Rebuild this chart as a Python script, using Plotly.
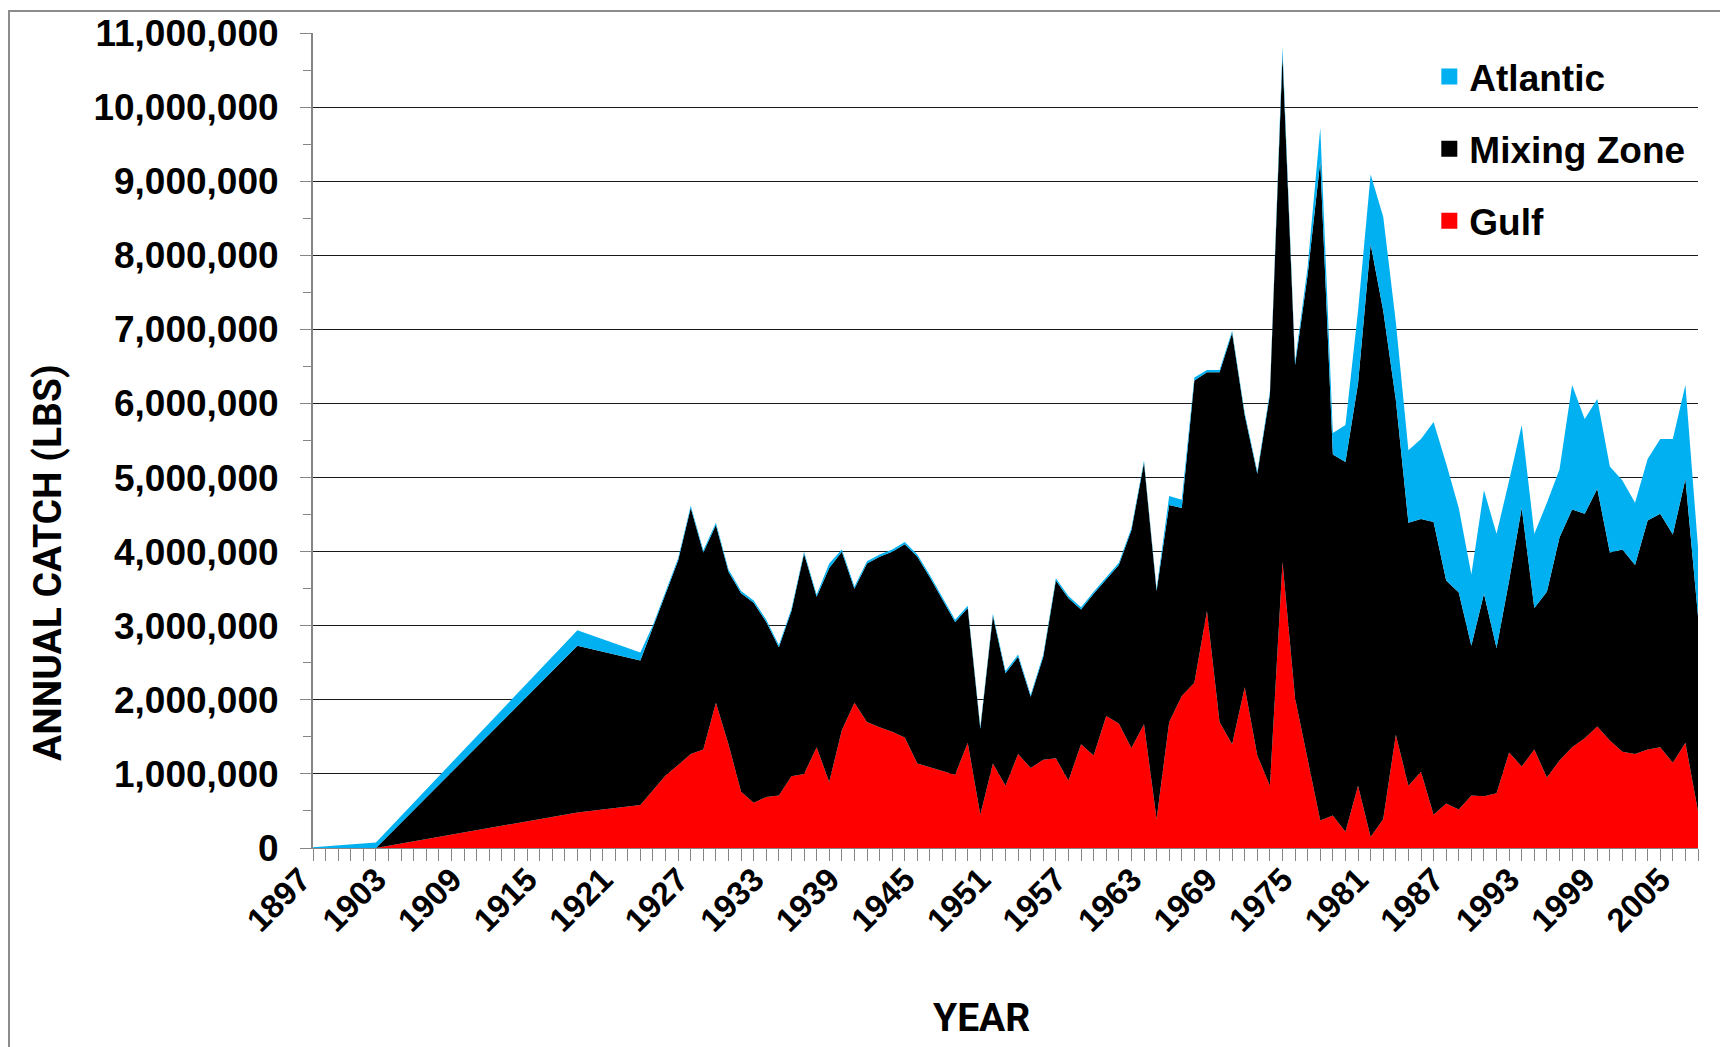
import plotly.graph_objects as go

years = [1897, 1902, 1918, 1923, 1924, 1925, 1926, 1927, 1928, 1929, 1930, 1931, 1932, 1933, 1934,
         1935, 1936, 1937, 1938, 1939, 1940, 1941, 1942, 1943, 1944, 1945, 1946, 1947, 1948, 1949,
         1950, 1951, 1952, 1953, 1954, 1955, 1956, 1957, 1958, 1959, 1960, 1961, 1962, 1963, 1964,
         1965, 1966, 1967, 1968, 1969, 1970, 1971, 1972, 1973, 1974, 1975, 1976, 1977, 1978, 1979,
         1980, 1981, 1982, 1983, 1984, 1985, 1986, 1987, 1988, 1989, 1990, 1991, 1992, 1993, 1994,
         1995, 1996, 1997, 1998, 1999, 2000, 2001, 2002, 2003, 2004, 2005, 2006, 2007]

# values in millions of lbs
gulf_m = [0.00, 0.00, 0.48, 0.58, 0.78, 0.98, 1.12, 1.27, 1.33, 1.96, 1.40, 0.76, 0.61, 0.69, 0.71,
          0.97, 1.00, 1.36, 0.89, 1.59, 1.96, 1.70, 1.63, 1.57, 1.49, 1.14, 1.09, 1.04, 0.99, 1.42,
          0.45, 1.14, 0.84, 1.27, 1.08, 1.19, 1.21, 0.91, 1.40, 1.25, 1.78, 1.68, 1.35, 1.67, 0.39,
          1.70, 2.05, 2.23, 3.20, 1.70, 1.40, 2.17, 1.25, 0.84, 3.86, 2.02, 1.21, 0.37, 0.44, 0.22,
          0.84, 0.15, 0.39, 1.53, 0.84, 1.03, 0.45, 0.60, 0.52, 0.71, 0.70, 0.74, 1.29, 1.10, 1.33,
          0.95, 1.18, 1.36, 1.48, 1.64, 1.45, 1.30, 1.27, 1.33, 1.36, 1.15, 1.42, 0.50]

mixing_m = [0.00, 0.00, 2.25, 1.95, 2.20, 2.45, 2.76, 3.32, 2.66, 2.40, 2.33, 2.68, 2.70, 2.36, 2.00,
            2.23, 2.97, 2.03, 2.89, 2.41, 1.54, 2.14, 2.30, 2.43, 2.61, 2.79, 2.56, 2.31, 2.06, 1.82,
            1.16, 1.99, 1.52, 1.31, 0.96, 1.39, 2.40, 2.46, 1.82, 2.18, 1.85, 2.14, 2.94, 3.53, 3.08,
            2.93, 2.54, 4.08, 3.22, 4.72, 5.55, 3.67, 3.80, 5.28, 6.84, 4.50, 6.53, 8.90, 4.87, 4.99,
            5.43, 8.00, 6.86, 4.52, 3.55, 3.41, 3.95, 3.01, 2.93, 2.02, 2.73, 1.96, 2.32, 3.49, 1.91,
            2.51, 3.01, 3.21, 3.03, 3.21, 2.54, 2.73, 2.55, 3.09, 3.15, 3.08, 3.56, 2.63]

atlantic_m = [0.01, 0.075, 0.21, 0.11, 0.03, 0.03, 0.03, 0.03, 0.03, 0.03, 0.03, 0.03, 0.03, 0.03, 0.03,
              0.03, 0.03, 0.03, 0.06, 0.03, 0.03, 0.03, 0.03, 0.03, 0.03, 0.03, 0.03, 0.03, 0.03, 0.03,
              0.03, 0.03, 0.03, 0.03, 0.03, 0.03, 0.03, 0.03, 0.03, 0.03, 0.03, 0.03, 0.03, 0.03, 0.03,
              0.12, 0.11, 0.04, 0.03, 0.03, 0.03, 0.03, 0.03, 0.04, 0.11, 0.05, 0.11, 0.45, 0.29, 0.50,
              0.98, 0.94, 1.27, 1.05, 0.98, 1.08, 1.35, 1.58, 1.14, 0.96, 1.40, 1.54, 1.35, 1.12, 1.00,
              1.20, 0.92, 1.68, 1.28, 1.21, 1.16, 0.93, 0.84, 0.83, 1.01, 1.29, 1.27, 0.93]

tick_years = [1897, 1903, 1909, 1915, 1921, 1927, 1933, 1939, 1945, 1951, 1957, 1963, 1969, 1975,
              1981, 1987, 1993, 1999, 2005]

series_names = ["Gulf", "Mixing Zone", "Atlantic"]
series_colors = ["#FF0000", "#000000", "#00B0F0"]
series_values = [gulf_m, mixing_m, atlantic_m]
legend_ranks = [3, 2, 1]

FONT = "Liberation Sans, Arial, sans-serif"
TITLEFONT = "Roboto, Liberation Sans, sans-serif"

# figure geometry (page body adds an 8px offset)
W, H = 1720, 1039
ML, MR, MT, MB = 305, 30, 25, 199
PW, PH = W - ML - MR, H - MT - MB


def px_x(x):
    return (x - ML) / PW


def px_y(y):
    return (H - MB - y) / PH


fig = go.Figure()
for name, color, vals in zip(series_names, series_colors, series_values):
    fig.add_trace(go.Scatter(
        x=years, y=[v * 1e6 for v in vals], name=name, mode="lines",
        stackgroup="one", line=dict(width=0, color=color), fillcolor=color,
        showlegend=False, hoverinfo="x+y+name"))

# legend entries with square symbols
for name, color, rank in zip(series_names, series_colors, legend_ranks):
    fig.add_trace(go.Scatter(
        x=[None], y=[None], name=name, mode="markers",
        marker=dict(symbol="square", size=16, color=color),
        legendgroup=name, legendrank=rank, showlegend=True))

fig.update_layout(
    width=W, height=H,
    paper_bgcolor="white", plot_bgcolor="white",
    margin=dict(l=ML, r=MR, t=MT, b=MB, autoexpand=False),
    font=dict(family=FONT, color="black"),
    showlegend=True,
    legend=dict(
        x=0.806, y=0.984, xanchor="left", yanchor="top",
        traceorder="grouped", tracegroupgap=21,
        font=dict(family=FONT, size=37, weight="bold", color="black"),
        bgcolor="rgba(0,0,0,0)", itemsizing="trace"),
    xaxis=dict(
        range=[1897, 2007], tickmode="array", tickvals=tick_years,
        ticktext=[str(y) for y in tick_years], tickangle=-45,
        tickfont=dict(family=FONT, size=33, weight="bold", color="black"),
        ticks="outside", ticklen=12, tickcolor="#868686", tickwidth=1,
        minor=dict(dtick=1, tick0=1897, ticks="outside", ticklen=12, tickcolor="#868686", tickwidth=1),
        showgrid=False, zeroline=False, automargin=False,
        showline=True, linecolor="#868686", linewidth=1,
        ticklabelstandoff=-14, ticklabelshift=-12,
    ),
    yaxis=dict(
        range=[0, 11000000], dtick=1000000, tickformat=",d",
        tickfont=dict(family=FONT, size=37, weight="bold", color="black"),
        ticks="outside", ticklen=11, tickcolor="#868686", tickwidth=1,
        minor=dict(dtick=500000, ticks="outside", ticklen=8, tickcolor="#868686", tickwidth=1),
        showgrid=True, gridcolor="#1a1a1a", gridwidth=1,
        zeroline=False, automargin=False,
        showline=True, linecolor="#868686", linewidth=2,
        ticklabelstandoff=14,
    ),
    annotations=[
        dict(text="ANNUAL CATCH (LBS)", xref="paper", yref="paper",
             x=px_x(40), y=px_y(555), xanchor="center", yanchor="middle",
             textangle=-90, showarrow=False,
             font=dict(family=TITLEFONT, size=39, weight="bold", color="black")),
        dict(text="YEAR", xref="paper", yref="paper",
             x=px_x(973), y=px_y(1010), xanchor="center", yanchor="middle",
             showarrow=False,
             font=dict(family=TITLEFONT, size=39, weight="bold", color="black")),
    ],
)

# outer chart frame
fig.add_shape(type="rect", xref="paper", yref="paper",
              x0=px_x(1), x1=1.2, y0=-0.4, y1=px_y(3),
              line=dict(color="#8c8c8c", width=2), fillcolor="rgba(0,0,0,0)", layer="below")

fig.write_html("out.html")
